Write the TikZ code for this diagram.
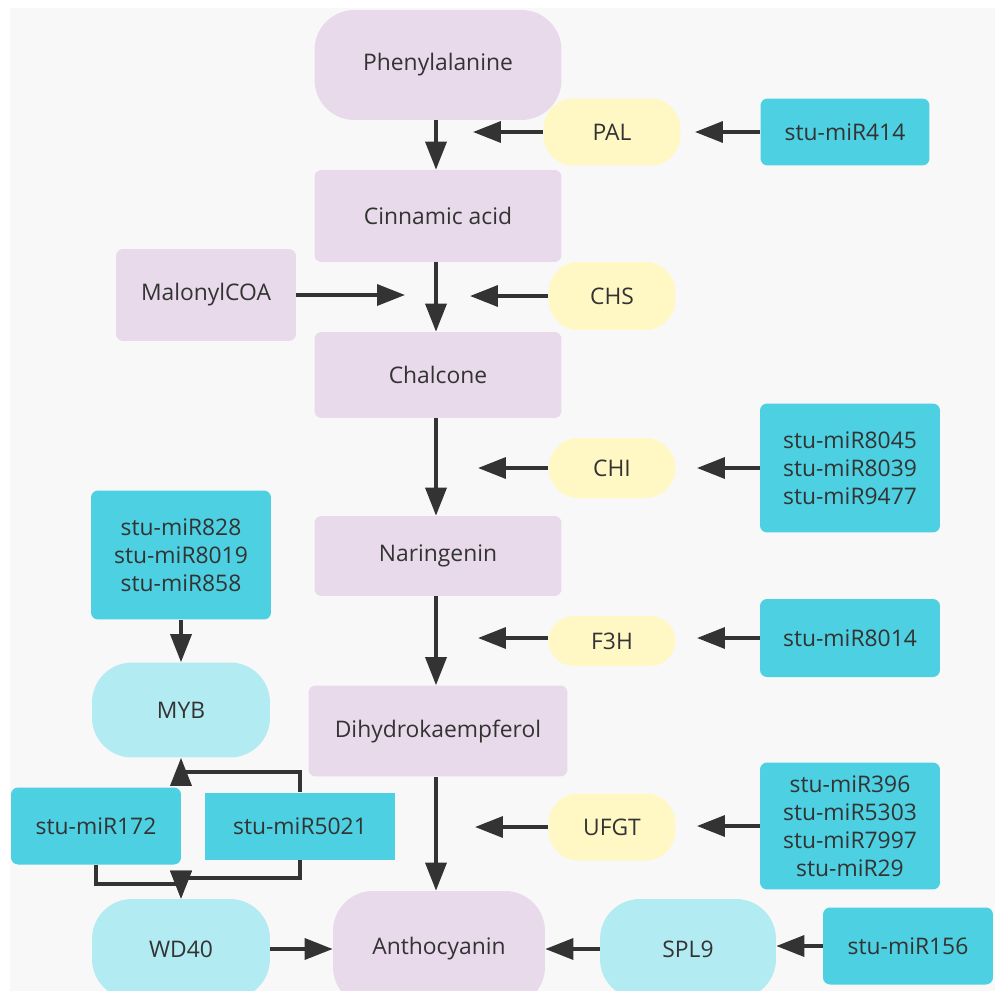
\documentclass[tikz,border=0pt]{standalone}
\usepackage{fontspec}
\setmainfont{Open Sans}
\usepackage{tikz}
\usetikzlibrary{arrows.meta}
\definecolor{paper}{HTML}{F8F8F8}
\definecolor{metabfill}{HTML}{E8DAEB}
\definecolor{enzfill}{HTML}{FFF8C4}
\definecolor{mirfill}{HTML}{4DD0E1}
\definecolor{tffill}{HTML}{B2EBF2}
\definecolor{ink}{HTML}{333333}
\tikzset{
  box/.style={rectangle, inner sep=0pt, align=center, text=ink, font=\fontsize{13}{16}\selectfont},
  metab/.style={box, fill=metabfill, rounded corners=4pt},
  enzyme/.style={box, fill=enzfill, rounded corners=0.6cm},
  mirna/.style={box, fill=mirfill, rounded corners=4pt},
  factor/.style={box, fill=tffill, rounded corners=0.8cm},
  arr/.style={-{Triangle[length=5.6mm, width=4.2mm]}, line width=2pt, ink},
}
\begin{document}
\begin{tikzpicture}[x=0.02cm, y=-0.02cm]
\useasboundingbox (0,0) rectangle (995,991);
\clip (0,0) rectangle (995,991);
\fill[paper] (10,8) rectangle (995,991);

\node[metab, rounded corners=0.8cm, minimum width=4.94cm, minimum height=2.2cm] (phe) at (438,65) {Phenylalanine};
\node[metab, minimum width=4.94cm, minimum height=1.84cm] (cin) at (438,216) {Cinnamic acid};
\node[metab, minimum width=3.6cm, minimum height=1.84cm] (mal) at (206,295) {MalonylCOA};
\node[metab, minimum width=4.94cm, minimum height=1.72cm] (cha) at (438,375) {Chalcone};
\node[metab, minimum width=4.94cm, minimum height=1.6cm] (nar) at (438,556) {Naringenin};
\node[metab, minimum width=5.18cm, minimum height=1.82cm] (dih) at (438,731) {Dihydrokaempferol};
\node[metab, rounded corners=0.8cm, minimum width=4.24cm, minimum height=2.32cm] (ant) at (439,949) {Anthocyanin};

\node[enzyme, minimum width=2.74cm, minimum height=1.34cm] (pal) at (612,132) {PAL};
\node[enzyme, minimum width=2.54cm, minimum height=1.36cm] (chs) at (612,296) {CHS};
\node[enzyme, minimum width=2.54cm, minimum height=1.2cm] (chi) at (612,468) {CHI};
\node[enzyme, rounded corners=0.5cm, minimum width=2.54cm, minimum height=1.0cm] (f3h) at (612,641) {F3H};
\node[enzyme, minimum width=2.54cm, minimum height=1.34cm] (ufgt) at (612,827) {UFGT};

\node[mirna, minimum width=3.38cm, minimum height=1.34cm] (m414) at (845,132) {stu-miR414};
\node[mirna, minimum width=3.6cm, minimum height=2.58cm] (m8045) at (850,468) {stu-miR8045\\stu-miR8039\\stu-miR9477};
\node[mirna, minimum width=3.6cm, minimum height=1.56cm] (m8014) at (850,638) {stu-miR8014};
\node[mirna, minimum width=3.6cm, minimum height=2.54cm] (m396) at (850,826) {stu-miR396\\stu-miR5303\\stu-miR7997\\stu-miR29};
\node[mirna, minimum width=3.4cm, minimum height=1.54cm] (m156) at (908,946) {stu-miR156};
\node[mirna, minimum width=3.6cm, minimum height=2.58cm] (m828) at (181,555) {stu-miR828\\stu-miR8019\\stu-miR858};
\node[mirna, minimum width=3.4cm, minimum height=1.54cm] (m172) at (96,826) {stu-miR172};
\node[mirna, rounded corners=0pt, minimum width=3.82cm, minimum height=1.34cm] (m5021) at (300,826) {stu-miR5021};

\node[factor, minimum width=3.56cm, minimum height=1.9cm] (myb) at (181,710) {MYB};
\node[factor, minimum width=3.56cm, minimum height=2.0cm] (wd40) at (181,949) {WD40};
\node[factor, minimum width=3.52cm, minimum height=2.0cm] (spl9) at (688,949) {SPL9};

\coordinate (palend) at (473,132);
\coordinate (m414end) at (695,132);
\coordinate (malend) at (405,295);
\coordinate (chsend) at (470,296);
\coordinate (chiend) at (478,468);
\coordinate (m8045end) at (697,468);
\coordinate (f3hend) at (478,638);
\coordinate (m8014end) at (697,638);
\coordinate (ufgtend) at (475,827);
\coordinate (m396end) at (697,826);

\draw[arr] (phe.south -| 436,0) -- (cin.north -| 436,0);
\draw[arr] (cin.south -| 436,0) -- (cha.north -| 436,0);
\draw[arr] (cha.south -| 436,0) -- (nar.north -| 436,0);
\draw[arr] (nar.south -| 436,0) -- (dih.north -| 436,0);
\draw[arr] (dih.south -| 436,0) -- (ant.north -| 436,0);

\draw[arr] (pal.west) -- (palend);
\draw[arr] (m414.west) -- (m414end);
\draw[arr] (mal.east) -- (malend);
\draw[arr] (chs.west) -- (chsend);
\draw[arr] (chi.west) -- (chiend);
\draw[arr] (m8045.west) -- (m8045end);
\draw[arr] (f3h.west |- f3hend) -- (f3hend);
\draw[arr] (m8014.west) -- (m8014end);
\draw[arr] (ufgt.west) -- (ufgtend);
\draw[arr] (m396.west) -- (m396end);

\draw[arr] (m156.west) -- (spl9.east |- m156.west);
\draw[arr] (spl9.west) -- (ant.east);
\draw[arr] (wd40.east) -- (ant.west);

\draw[arr] (m828.south) -- (myb.north);
\draw[arr] (m5021.north) -- ++(0,-20) -| (myb.south);
\draw[arr] (m172.south) -- ++(0,19) -| (wd40.north);
\draw[arr] (m5021.south) -- ++(0,18) -| (wd40.north);
\end{tikzpicture}
\end{document}
